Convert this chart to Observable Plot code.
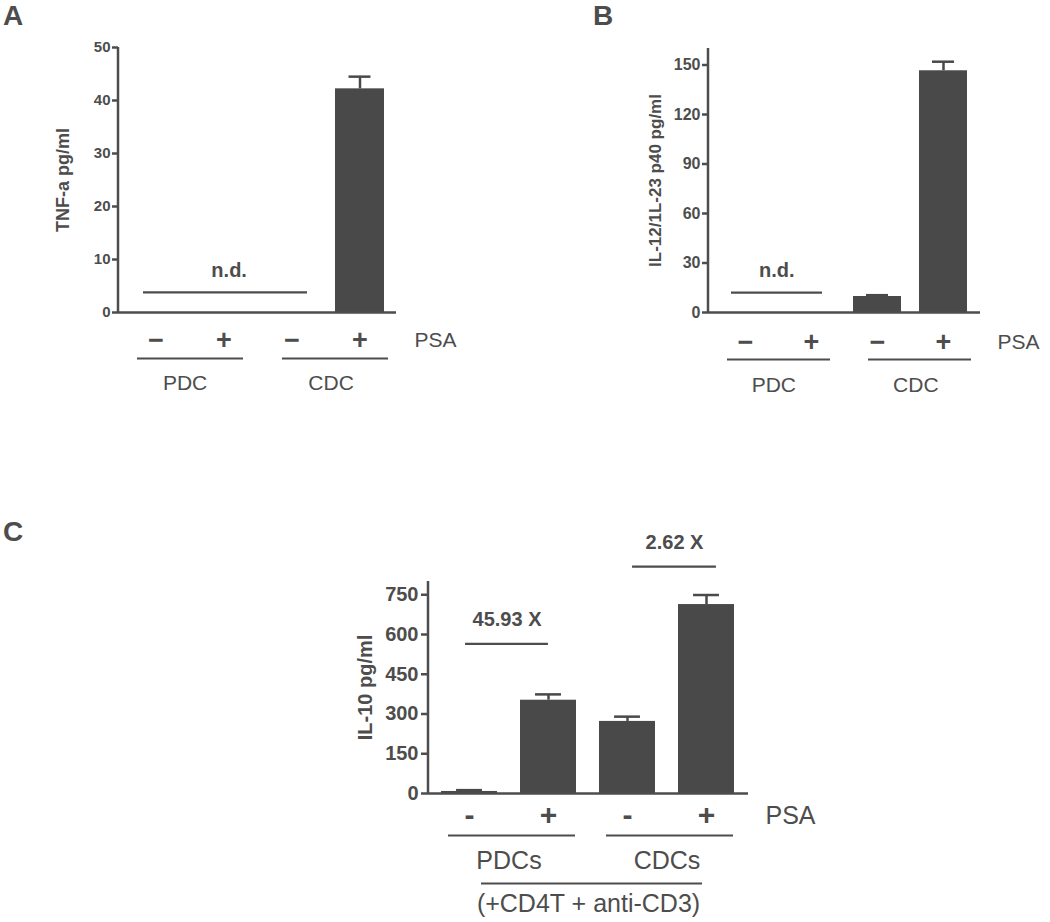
<!DOCTYPE html>
<html>
<head>
<meta charset="utf-8">
<script src="https://cdn.jsdelivr.net/npm/d3@7"></script>
<script src="https://cdn.jsdelivr.net/npm/@observablehq/plot@0.6"></script>
<style>
  body { margin: 0; background: #ffffff; }
  #fig { position: relative; width: 1050px; height: 922px; overflow: hidden; background: #fff;
         font-family: "Liberation Sans", Arial, Helvetica, sans-serif; color: #4d4d4d; }
  .panel { position: absolute; }
  .letter { position: absolute; font-weight: bold; font-size: 28px; line-height: normal; color: #4d4d4d; }
</style>
</head>
<body>
<div id="fig"></div>
<script>
// ---------------- Data ----------------
// Panel A: TNF-a
const catsA = ["PDC-", "PDC+", "CDC-", "CDC+"];
const signsA = ["−", "+", "−", "+"];
const groupsA = ["PDC", "CDC"];
const tnfMeans = [null, null, null, 42.2];
const tnfErrors = [null, null, null, 2.3];
const tnfTicks = [0, 10, 20, 30, 40, 50];
const tnfLabel = "TNF-a pg/ml";
const ndLevelA = 3.8;
const ndSpanA = ["PDC-", "CDC-"];

// Panel B: IL-12/IL-23 p40
const catsB = ["PDC-", "PDC+", "CDC-", "CDC+"];
const signsB = ["−", "+", "−", "+"];
const groupsB = ["PDC", "CDC"];
const il12Means = [null, null, 9.7, 146.5];
const il12Errors = [null, null, 0.8, 5.5];
const il12Ticks = [0, 30, 60, 90, 120, 150];
const il12Label = "IL-12/1L-23 p40 pg/ml";
const ndLevelB = 12.1;
const ndSpanB = ["PDC-", "PDC+"];

// Panel C: IL-10
const catsC = ["PDCs-", "PDCs+", "CDCs-", "CDCs+"];
const signsC = ["-", "+", "-", "+"];
const groupsC = ["PDCs", "CDCs"];
const il10Means = [7.7, 352, 272, 713];
const il10Errors = [5, 22, 18, 36];
const il10Ticks = [0, 150, 300, 450, 600, 750];
const il10Label = "IL-10 pg/ml";
const foldLabels = ["45.93 X", "2.62 X"];
const foldLevels = [565, 856];
const foldSpans = [["PDCs-", "PDCs+"], ["CDCs-", "CDCs+"]];
const treatmentLabel = "(+CD4T + anti-CD3)";
const factorLabel = "PSA";

// ---------------- Styling ----------------
const INK = "#4d4d4d";
const BAR = "#494949";
const FONT = "'Liberation Sans', Arial, Helvetica, sans-serif";

function buildPanel(cfg) {
  const {cats, signs, groups, means, errors, ticks, yMax, yLabel, L} = cfg;
  const n = cats.length;
  const rows = cats.map((c, i) => ({cat: c, sign: signs[i], mean: means[i], err: errors[i]}));
  const measured = rows.filter(d => d.mean != null);
  const innerW = L.width - L.ml - L.mr;
  const step = innerW / (n - L.pi + 2 * L.po);
  const bw = step * (1 - L.pi);
  const idx = c => cats.indexOf(c);
  const groupRows = groups.map((g, k) => ({name: g, first: cats[2 * k], last: cats[2 * k + 1], k}));

  const axisLine = (index, scales, values, dims) => {
    const {marginLeft, marginTop, height, marginBottom} = dims;
    return d3.create("svg:line")
      .attr("x1", marginLeft).attr("x2", marginLeft)
      .attr("y1", marginTop).attr("y2", height - marginBottom + 1)
      .attr("stroke", INK).attr("stroke-width", L.sw).node();
  };

  const marks = [
    Plot.barY(measured, {x: "cat", y: "mean", fill: BAR}),
    Plot.ruleX(measured, {x: "cat", y1: "mean", y2: d => d.mean + d.err, stroke: BAR, strokeWidth: L.sw}),
    Plot.tickY(measured, {x: "cat", y: d => d.mean + d.err, stroke: BAR, strokeWidth: L.sw,
      insetLeft: (bw - L.cap) / 2, insetRight: (bw - L.cap) / 2}),
    Plot.ruleY([0], {stroke: INK, strokeWidth: L.sw}),
    axisLine,
    Plot.axisY({ticks, tickSize: L.tickSize, tickPadding: L.tickPad, fontSize: L.tickFont,
      fontWeight: "bold", fontFamily: FONT, label: null, stroke: INK, strokeWidth: L.sw, fill: INK}),
    // y label
    Plot.text([yLabel], {frameAnchor: "left", text: d => d, rotate: -90, dx: L.labelDx,
      textAnchor: "middle", lineAnchor: "middle",
      fontSize: L.labelFont, fontWeight: "bold", fontFamily: FONT, fill: INK}),
    // +/- signs
    Plot.text(rows, {x: "cat", y: () => 0, text: "sign", dy: L.signDy, fontSize: L.signFont,
      fontWeight: "bold", fontFamily: FONT, fill: INK}),
    // PSA
    Plot.text([factorLabel], {frameAnchor: "right", y: () => 0, text: d => d, textAnchor: "start",
      lineAnchor: "middle", dx: L.psaDx, dy: L.signDy, fontSize: L.psaFont, fontFamily: FONT, fill: INK})
  ];

  groupRows.forEach(g => {
    marks.push(Plot.ruleY([g], {x1: "first", x2: "last", y: () => 0, dy: L.gLineDy,
      insetLeft: L.gInset[g.k][0], insetRight: L.gInset[g.k][1], stroke: INK, strokeWidth: L.gsw}));
    marks.push(Plot.text([g], {x: "first", y: () => 0, text: "name", dx: step / 2 + L.gShift[g.k],
      dy: L.gLabelDy, fontSize: L.psaFont, fontFamily: FONT, fill: INK}));
  });

  if (cfg.nd) {
    const {level, span} = cfg.nd;
    marks.push(Plot.ruleY([{level, from: span[0], to: span[1]}], {x1: "from", x2: "to", y: "level",
      insetLeft: L.ndInset[0], insetRight: L.ndInset[1], stroke: INK, strokeWidth: L.gsw}));
    marks.push(Plot.text([{level, from: span[0]}], {x: "from", y: "level", text: () => "n.d.",
      dx: (idx(span[1]) - idx(span[0])) * step / 2 + L.ndShift, dy: -22, fontSize: L.ndFont, fontWeight: "bold",
      fontFamily: FONT, fill: INK}));
  }

  if (cfg.folds) {
    cfg.folds.labels.forEach((lab, k) => {
      const f = {level: cfg.folds.levels[k], from: cfg.folds.spans[k][0], to: cfg.folds.spans[k][1], lab};
      const shift = L.foldShift[k];
      marks.push(Plot.ruleY([f], {x1: "from", x2: "to", y: "level",
        insetLeft: bw / 2 + shift[0], insetRight: bw / 2 - shift[1], stroke: INK, strokeWidth: L.gsw}));
      marks.push(Plot.text([f], {x: "from", y: "level", text: "lab", dx: step / 2 + (shift[0] + shift[1]) / 2,
        dy: -24, fontSize: L.ndFont, fontWeight: "bold", fontFamily: FONT, fill: INK}));
    });
  }

  if (cfg.treatment) {
    marks.push(Plot.ruleY([{a: cats[0], b: cats[n - 1]}], {x1: "a", x2: "b", y: () => 0, dy: 90,
      insetLeft: 40, insetRight: 32, stroke: INK, strokeWidth: L.gsw}));
    marks.push(Plot.text([cfg.treatment], {frameAnchor: "bottom", text: d => d, dy: 110,
      lineAnchor: "middle", textAnchor: "middle", fontSize: 25, fontFamily: FONT, fill: INK}));
  }

  const svg = Plot.plot({
    width: L.width, height: L.height,
    marginTop: L.mt, marginRight: L.mr, marginBottom: L.mb, marginLeft: L.ml,
    style: {fontFamily: FONT, color: INK, background: "transparent", overflow: "visible"},
    x: {type: "band", domain: cats, paddingInner: L.pi, paddingOuter: L.po, axis: null},
    y: {domain: [0, yMax], label: null},
    marks
  });
  svg.classList.add("panel");
  svg.style.left = L.left + "px";
  svg.style.top = L.top + "px";
  return svg;
}

const fig = document.getElementById("fig");

fig.appendChild(buildPanel({
  cats: catsA, signs: signsA, groups: groupsA, means: tnfMeans, errors: tnfErrors,
  ticks: tnfTicks, yMax: 50, yLabel: tnfLabel,
  nd: {level: ndLevelA, span: ndSpanA},
  L: {left: 0, top: 0, width: 470, height: 410, mt: 47, mr: 74, mb: 98, ml: 118,
      pi: 0.28, po: 0.18, sw: 2.5, gsw: 2.2, cap: 22, tickSize: 6, tickPad: 2, tickFont: 15,
      labelDx: -55, labelFont: 18, signDy: 28, signFont: 27, psaDx: 18, psaFont: 21,
      gLineDy: 46, gLabelDy: 71, gInset: [[6, 5], [15, -4]], gShift: [-5, 5],
      ndInset: [12, 9], ndShift: 5, ndFont: 20}
}));

fig.appendChild(buildPanel({
  cats: catsB, signs: signsB, groups: groupsB, means: il12Means, errors: il12Errors,
  ticks: il12Ticks, yMax: 160, yLabel: il12Label,
  nd: {level: ndLevelB, span: ndSpanB},
  L: {left: 540, top: 0, width: 510, height: 410, mt: 48, mr: 70, mb: 98, ml: 168,
      pi: 0.28, po: 0.18, sw: 2.5, gsw: 2.2, cap: 22, tickSize: 6, tickPad: 2, tickFont: 16,
      labelDx: -53, labelFont: 17, signDy: 30, signFont: 27, psaDx: 17, psaFont: 21,
      gLineDy: 47, gLabelDy: 73, gInset: [[6, 5], [15, -4]], gShift: [-5, 5],
      ndInset: [10, 13], ndShift: -2, ndFont: 20}
}));

fig.appendChild(buildPanel({
  cats: catsC, signs: signsC, groups: groupsC, means: il10Means, errors: il10Errors,
  ticks: il10Ticks, yMax: 800, yLabel: il10Label,
  folds: {labels: foldLabels, levels: foldLevels, spans: foldSpans},
  treatment: treatmentLabel,
  L: {left: 340, top: 520, width: 520, height: 402, mt: 61, mr: 112, mb: 129, ml: 88,
      pi: 0.29, po: 0.17, sw: 2.5, gsw: 2.2, cap: 26, tickSize: 7, tickPad: 3, tickFont: 20,
      labelDx: -63, labelFont: 20, signDy: 22, signFont: 30, psaDx: 17, psaFont: 25,
      gLineDy: 42, gLabelDy: 67, gInset: [[7, 1], [7, 1]], gShift: [0, 0],
      foldShift: [[-4, 0], [5, 10]], ndFont: 20}
}));

[["A", 3, 0], ["B", 593, 0], ["C", 3, 516]].forEach(([t, x, y]) => {
  const d = document.createElement("div");
  d.className = "letter";
  d.textContent = t;
  d.style.left = x + "px";
  d.style.top = y + "px";
  fig.appendChild(d);
});
</script>
</body>
</html>
